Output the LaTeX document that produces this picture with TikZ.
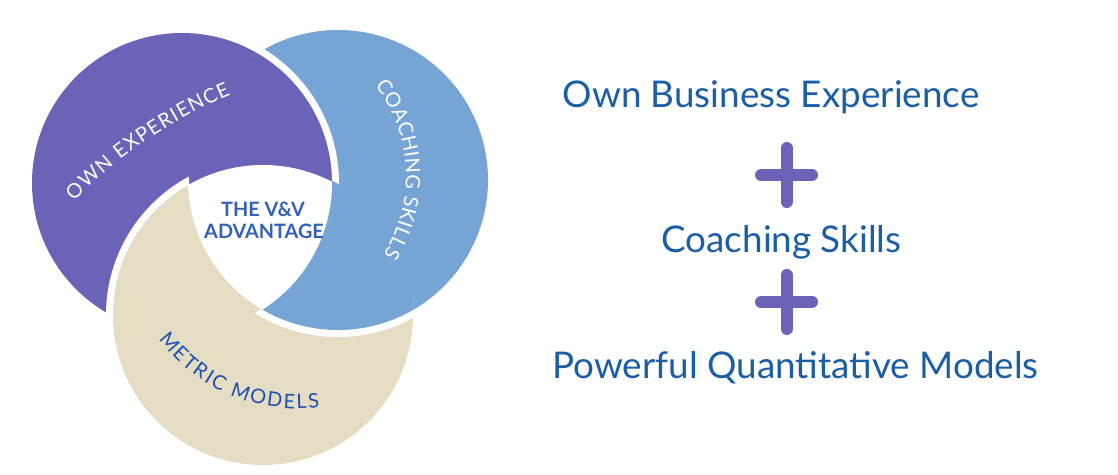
\documentclass[tikz,border=0pt]{standalone}
\usepackage{fontspec}
\setmainfont{Lato}
\newfontfamily\labfont{Lato}
\usetikzlibrary{decorations.text}
\definecolor{cpurple}{HTML}{6A63B8}
\definecolor{cblue}{HTML}{76A4D5}
\definecolor{cbeige}{HTML}{E5DCC4}
\definecolor{rtextc}{HTML}{1B5EA6}
\definecolor{ctextc}{HTML}{3461B6}
\definecolor{mtextc}{HTML}{1F4FAE}
\newcommand{\labsize}{\fontsize{20}{20}\selectfont}
\begin{document}
\begin{tikzpicture}[x=1pt,y=1pt,
  rtext/.style={text=rtextc, font=\fontsize{36.8}{40}\selectfont, inner sep=0pt, anchor=base},
  ctext/.style={text=ctextc, font=\bfseries\fontsize{19.8}{22}\selectfont, inner sep=0pt, anchor=base},
  gapline/.style={draw=white, line width=14},
  plusarm/.style={draw=cpurple, line width=12, line cap=round}]
\useasboundingbox (0,0) rectangle (1118,474);
\fill[white] (0,0) rectangle (1118,474);
\coordinate (P) at (182,291);
\coordinate (B) at (338,294);
\coordinate (M) at (263,159);
\def\R{150}
\def\Rout{151}
\def\Rin{149}
% base fills
\fill[cblue] (B) circle[radius=\R];
\fill[cbeige] (M) circle[radius=\R];
\fill[cpurple] (P) circle[radius=\R];
% purple over blue
\begin{scope}
  \clip (B) circle[radius=\Rout];
  \begin{scope}[even odd rule]
    \clip (-50,-50) rectangle (1200,600) (M) circle[radius=\Rin];
    \draw[gapline] (P) circle[radius=\R];
    \fill[cpurple] (P) circle[radius=\R];
  \end{scope}
\end{scope}
% beige over purple
\begin{scope}
  \clip (P) circle[radius=\Rout];
  \begin{scope}[even odd rule]
    \clip (-50,-50) rectangle (1200,600) (B) circle[radius=\Rin];
    \draw[gapline] (M) circle[radius=\R];
    \fill[cbeige] (M) circle[radius=\R];
  \end{scope}
\end{scope}
% blue over beige
\begin{scope}
  \clip (M) circle[radius=\Rout];
  \begin{scope}[even odd rule]
    \clip (-50,-50) rectangle (1200,600) (P) circle[radius=\Rin];
    \draw[gapline] (B) circle[radius=\R];
    \fill[cblue] (B) circle[radius=\R];
  \end{scope}
\end{scope}
% white centre
\begin{scope}
  \clip (P) circle[radius=\R];
  \clip (B) circle[radius=\R];
  \fill[white] (M) circle[radius=\R];
\end{scope}
% centre label
\node[ctext] (adv1) at (263,257) {THE V\&V};
\node[ctext] (adv2) at (264,235) {ADVANTAGE};
% curved labels
\coordinate (cOwn) at (411,-56);
\coordinate (cCoach) at (259,298);
\coordinate (cMetric) at (297,238.5);
\path[decorate, decoration={text along path, text align=fit to path,
   text={|\labfont\labsize\color{white}|OWN EXPERIENCE}}]
  (cOwn) ++(135.7:471) arc[start angle=135.7, end angle=112.5, radius=471];
\path[decorate, decoration={text along path, text align=fit to path,
   text={|\labfont\labsize\color{white}|COACHING SKILLS}}]
  (cCoach) ++(37.9:147) arc[start angle=37.9, end angle=-32.3, radius=147];
\path[decorate, decoration={text along path, text align=fit to path,
   text={|\labfont\labsize\color{mtextc}|METRIC MODELS}}]
  (cMetric) ++(216.8:173) arc[start angle=216.8, end angle=277.5, radius=173];
% right side
\node[rtext] (own) at (771,366) {Own Business Experience};
\node[rtext] (coach) at (781.5,221) {Coaching Skills};
\node[rtext] (pqm) at (795.5,96) {Powerful Quantitative Models};
\coordinate (plusA) at (786.5,299);
\coordinate (plusB) at (786.5,172);
\draw[plusarm] ([xshift=-25.5]plusA) -- ([xshift=25.5]plusA);
\draw[plusarm] ([yshift=-27]plusA) -- ([yshift=27]plusA);
\draw[plusarm] ([xshift=-25.5]plusB) -- ([xshift=25.5]plusB);
\draw[plusarm] ([yshift=-27]plusB) -- ([yshift=27]plusB);
\end{tikzpicture}
\end{document}
